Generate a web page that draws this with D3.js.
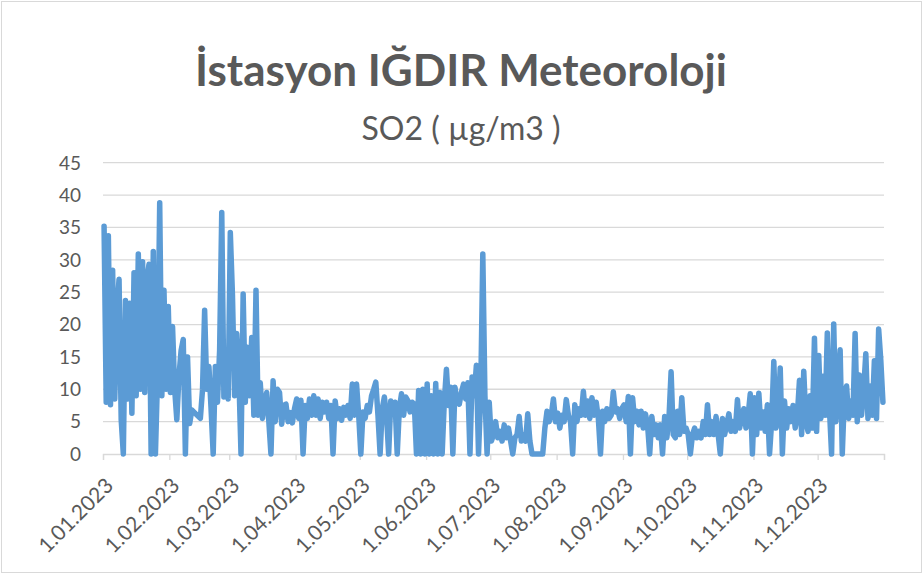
<!DOCTYPE html>
<html>
<head>
<meta charset="utf-8">
<script src="https://cdn.jsdelivr.net/npm/d3@7"></script>
<style>
  body { margin: 0; background: #fff; }
  svg { display: block; }
</style>
</head>
<body>
<div id="chart"></div>
<script>
// daily SO2 values (null = no data, line is joined across)
const jan = [35.2, 8, 33.7, 7.6, 28.4, 8.5, 22, 27, 5.3, 0, 23.7, 8.5, 23.3, 6.3, 28, 9, 30.9, 10, 29.7, 9.5, 27, 29.3, 0, 31.3, 0, 12, 38.8, 9, 25.3, 10, 22.8];
const feb = [9.5, 19.7, 10, 5.3, 12, 16, 17.7, 0, 15, 4.7, 6.8, null, null, null, 5.5, 9.9, 22.2, 10, 13.5, 7, 0, 13.5, 8, 16, 37.3, 8.8, 14, 8.5];
const mar = [34.2, 24.6, 9, 18.6, 11.9, 0, 24.7, 8, 16.5, 9, 18, 6, 25.3, 6, 11, 5.5, 8, 9.5, 5, 0, 11.3, 5, 10, 9.5, 4.6, 7.5, 7.7, 5, 6.4, 4.8, 7];
const apr = [8.5, 5.5, 8.3, 0, 7.5, 5.5, 8.5, 6, 9, 6, 8.5, 5.5, 8, 6.5, 8, 5.5, 7.5, 0, 8.2, 5.5, 7, 5.2, 7.2, 6, 7.5, 5.5, 10.8, 6, 10.8, 6];
const may = [0, 6.5, 5.5, 7.5, 6.5, 9, 10, 11.1, 6, 0, 7, 8.8, 6, 0, 8.2, 6.5, 8, 0, 7, 9.3, 6, 8.8, 8.2, 6.5, 8, 7.7, 0, 9.8, 0, 10, 0];
const jun = [10.8, 0, 9, 0, 10.9, 0, 9.5, 0, 8, 13.1, 7.5, 10.3, 0, 10.3, 8, 7.7, 9.5, 10.8, 8.5, 11, 0, 11.9, 9, 13.7, 0, 9, 30.9, 9, 0, 8];
const jul = [2, 3, 5, 2.5, 3.5, 2, 4.5, 2.5, 4, 2, 0, 2.5, 3, 5.8, 2, 3, 2, 6.2, 2, 0, 0, 0, 0, 0, 0, 4, 6.6, 5, 6, 8.5, 5];
const aug = [6.3, 4, 6, 5, 8.4, 6, 5, 0, 7.6, 5, 7, 6, 9.7, 6, 8.2, 5.5, 8.7, 6, 8, 5.5, 0, 6.6, 5, 7, 5.5, 6, 9.6, 6.5, 7, 5.5, 7];
const sep = [7.6, 5, 8.9, 0, 8.7, 5, 6.6, 4.5, 6.6, 4, 6.2, 4.5, 0, 5.8, 3, 4.5, 2.5, 4.5, 0, 5.8, 2.5, 5.5, 12.7, 3, 2.5, 6.6, 3, 8.7, 3.5, 4];
const oct = [3, 0, 3, 4, 2.5, 3.5, 2.5, 5, 3, 7.6, 3, 5, 3, 5.8, 3, 0, 5.5, 3, 4.5, 6.2, 3.5, 5, 3.5, 8.4, 4, 5.5, 7, 4, 6, 9.3, 0];
const nov = [8.7, 3, 9.4, 4, 6.5, 3.5, 7.6, 0, 5, 14.3, 4, 5.5, 13.3, 0, 8.2, 4, 7, 5, 7.5, 4, 6, 11.4, 3, 12.8, 5, 3.5, 9, 4, 17.9, 3.5];
const dec = [15.2, 5.5, 12, 6, 18.7, 7, 0, 20.1, 5, 11, 16.1, 0, 9, 10.5, 5.5, 8.2, 6, 18.6, 5, 12.2, 6, 10, 15.5, 5.5, 10.5, 6, 14.4, 5.5, 19.3, 14.5, 8];

const tickLabels = ["1.01.2023", "1.02.2023", "1.03.2023", "1.04.2023", "1.05.2023", "1.06.2023",
  "1.07.2023", "1.08.2023", "1.09.2023", "1.10.2023", "1.11.2023", "1.12.2023"];
const yTicks = [0, 5, 10, 15, 20, 25, 30, 35, 40, 45];

const title = "İstasyon IĞDIR Meteoroloji";
const subtitle = "SO2 ( µg/m3 )";

const W = 924, H = 575;
const margin = { left: 103, right: 40, top: 162.7, bottom: 121 };

const values = [].concat(jan, feb, mar, apr, may, jun, jul, aug, sep, oct, nov, dec);
const points = values
  .map((v, i) => ({ date: new Date(2023, 0, 1 + i, 12), v }))
  .filter(d => d.v !== null);

const font = "Lato, 'Open Sans', sans-serif";

const svg = d3.select("#chart").append("svg")
  .attr("width", W)
  .attr("height", H)
  .style("font-family", font);

svg.append("rect")
  .attr("x", 1.5).attr("y", 1.5)
  .attr("width", W - 4).attr("height", H - 4)
  .attr("fill", "#fff")
  .attr("stroke", "#d9d9d9");

const x = d3.scaleTime()
  .domain([new Date(2023, 0, 1), new Date(2024, 0, 1)])
  .range([margin.left, W - margin.right]);

const y = d3.scaleLinear()
  .domain([0, 45])
  .range([H - margin.bottom, margin.top]);

// gridlines
svg.append("g")
  .selectAll("line")
  .data(yTicks.filter(t => t > 0))
  .join("line")
  .attr("x1", x.range()[0]).attr("x2", x.range()[1])
  .attr("y1", d => y(d)).attr("y2", d => y(d))
  .attr("stroke", "#d9d9d9")
  .attr("stroke-width", 1.3);

// y labels
svg.append("g")
  .selectAll("text")
  .data(yTicks)
  .join("text")
  .attr("x", 81)
  .attr("y", d => y(d))
  .attr("dy", "0.36em")
  .attr("text-anchor", "end")
  .attr("fill", "#595959")
  .style("font-size", "19px")
  .text(d => d);

// x axis
const monthStarts = d3.timeMonth.range(new Date(2023, 0, 1), new Date(2024, 0, 2));
const xAxis = svg.append("g")
  .attr("transform", `translate(0,${y(0)})`)
  .call(d3.axisBottom(x)
    .tickValues(monthStarts)
    .tickSize(6)
    .tickFormat((d, i) => tickLabels[i] || ""));
xAxis.select(".domain").attr("stroke", "#d9d9d9").attr("stroke-width", 1.3);
xAxis.selectAll(".tick line").attr("stroke", "#d9d9d9").attr("stroke-width", 1.3);
xAxis.selectAll(".tick text")
  .attr("fill", "#595959")
  .style("font-size", "21px")
  .style("font-family", font)
  .attr("text-anchor", "end")
  .attr("dy", 0)
  .attr("y", 0)
  .attr("transform", "translate(11,33) rotate(-45)");

// series
const line = d3.line()
  .x(d => x(d.date))
  .y(d => y(d.v));

svg.append("path")
  .datum(points)
  .attr("fill", "none")
  .attr("stroke", "#5b9bd5")
  .attr("stroke-width", 5.5)
  .attr("stroke-linejoin", "round")
  .attr("stroke-linecap", "round")
  .attr("d", line);

// titles
svg.append("text")
  .attr("x", 461).attr("y", 86)
  .attr("text-anchor", "middle")
  .attr("fill", "#595959")
  .style("font-size", "44px")
  .style("font-weight", "bold")
  .text(title);

svg.append("text")
  .attr("x", 461).attr("y", 140)
  .attr("text-anchor", "middle")
  .attr("fill", "#595959")
  .style("font-size", "32px")
  .text(subtitle);
</script>
</body>
</html>
